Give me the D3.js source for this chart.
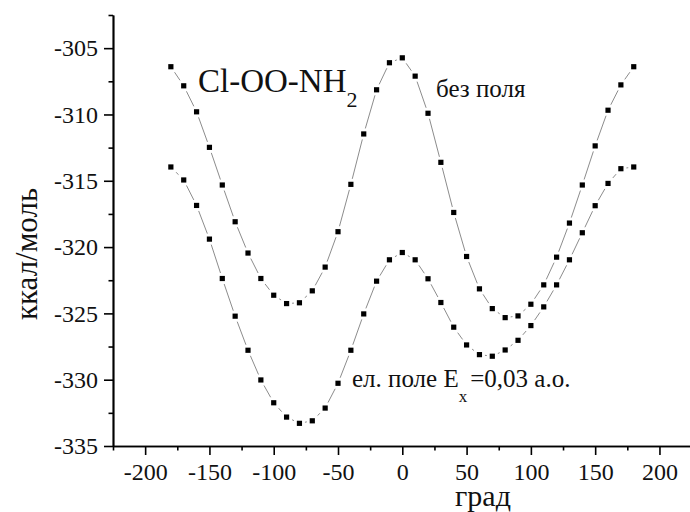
<!DOCTYPE html>
<html>
<head>
<meta charset="utf-8">
<script src="https://cdn.jsdelivr.net/npm/d3@7"></script>
<style>
  html, body { margin: 0; padding: 0; background: #fff; }
  svg { display: block; }
</style>
</head>
<body>
<svg id="chart" width="690" height="512"></svg>
<script>
// Torsion angle, degrees
const angles = [-180, -170, -160, -150, -140, -130, -120, -110, -100, -90, -80, -70, -60, -50, -40, -30, -20, -10,
  0, 10, 20, 30, 40, 50, 60, 70, 80, 90, 100, 110, 120, 130, 140, 150, 160, 170, 180];

// Energy without field, kcal/mol
const energyNoField = [-306.40, -307.84, -309.80, -312.48, -315.32, -318.09, -320.45, -322.37, -323.63, -324.26,
  -324.20, -323.30, -321.51, -318.84, -315.27, -311.47, -308.14, -306.10, -305.73, -307.11, -309.91, -313.61,
  -317.39, -320.71, -323.15, -324.64, -325.32, -325.19, -324.31, -322.85, -320.76, -318.19, -315.32, -312.37,
  -309.68, -307.77, -306.40];

// Energy in field Ex = 0.03 a.u., kcal/mol
const energyField = [-313.96, -314.94, -316.86, -319.40, -322.37, -325.21, -327.78, -330.02, -331.74, -332.82,
  -333.29, -333.10, -332.14, -330.27, -327.78, -325.04, -322.57, -320.96, -320.41, -320.96, -322.39, -324.18,
  -326.04, -327.38, -328.11, -328.23, -327.76, -327.03, -325.92, -324.51, -322.85, -320.96, -318.92, -316.88,
  -315.20, -314.09, -313.96];

const xMajorTicks = [-200, -150, -100, -50, 0, 50, 100, 150, 200];
const xMinorTicks = [-225, -175, -125, -75, -25, 25, 75, 125, 175, 225];
const yMajorTicks = [-335, -330, -325, -320, -315, -310, -305];
const yMinorTicks = [-332.5, -327.5, -322.5, -317.5, -312.5, -307.5, -302.5];

const FONT = '"Liberation Serif"';
const INK = "#111";

const svg = d3.select("#chart");

const x = d3.scaleLinear().domain([-225, 225]).range([113, 691.6]);
const y = d3.scaleLinear().domain([-335, -302.5]).range([446, 15]);

const fmt = d => String(d);

// Curves: thin grey connecting line, then square markers with a white gap round them
const line = d3.line().x(d => x(d[0])).y(d => y(d[1]));
const seriesList = [energyNoField, energyField];

seriesList.forEach(vals => {
  const pts = angles.map((a, i) => [a, vals[i]]);
  svg.append("path")
    .attr("d", line(pts))
    .attr("fill", "none")
    .attr("stroke", "#8c8c8c")
    .attr("stroke-width", 1);
});

seriesList.forEach(vals => {
  const pts = angles.map((a, i) => [a, vals[i]]);
  svg.append("g").selectAll("rect").data(pts).join("rect")
    .attr("x", d => x(d[0]) - 5.5)
    .attr("y", d => y(d[1]) - 5.5)
    .attr("width", 11).attr("height", 11)
    .attr("fill", "#fff");
});

seriesList.forEach(vals => {
  const pts = angles.map((a, i) => [a, vals[i]]);
  svg.append("g").selectAll("rect").data(pts).join("rect")
    .attr("x", d => x(d[0]) - 2.6)
    .attr("y", d => y(d[1]) - 2.6)
    .attr("width", 5.2).attr("height", 5.2)
    .attr("fill", "#000");
});

// Axes
function styleAxis(g) {
  g.selectAll(".domain").attr("stroke", "#000").attr("stroke-width", 1.7);
  g.selectAll(".tick line").attr("stroke", "#000").attr("stroke-width", 1.6);
  g.selectAll(".tick text")
    .style("font-family", FONT)
    .style("font-size", "24px")
    .style("fill", INK);
}

svg.append("g")
  .attr("transform", "translate(0,446)")
  .call(d3.axisBottom(x).tickValues(xMinorTicks).tickSize(4.5).tickSizeOuter(0).tickFormat(""))
  .call(styleAxis);
svg.append("g")
  .attr("transform", "translate(0,446)")
  .call(d3.axisBottom(x).tickValues(xMajorTicks).tickSize(9).tickSizeOuter(0).tickPadding(8).tickFormat(fmt))
  .call(styleAxis);

svg.append("g")
  .attr("transform", "translate(113,0)")
  .call(d3.axisLeft(y).tickValues(yMinorTicks).tickSize(4.5).tickSizeOuter(0).tickFormat(""))
  .call(styleAxis);
svg.append("g")
  .attr("transform", "translate(113,0)")
  .call(d3.axisLeft(y).tickValues(yMajorTicks).tickSize(9).tickSizeOuter(0).tickPadding(6).tickFormat(fmt))
  .call(styleAxis);

function label(sel, size) {
  return sel.style("font-family", FONT).style("font-size", size + "px").style("fill", INK);
}

// Axis titles
label(svg.append("text"), 30)
  .attr("x", 483).attr("y", 506)
  .attr("text-anchor", "middle")
  .text("град");

label(svg.append("text"), 31)
  .attr("transform", "translate(37,254) rotate(-90)")
  .attr("text-anchor", "middle")
  .text("ккал/моль");

// Annotations
const title = label(svg.append("text"), 33).attr("x", 198).attr("y", 92);
title.append("tspan").text("Cl-OO-NH");
title.append("tspan").attr("dy", 15).style("font-size", "22px").text("2");

label(svg.append("text"), 25)
  .attr("x", 436).attr("y", 97)
  .text("без поля");

const fieldLabel = label(svg.append("text"), 25).attr("x", 352).attr("y", 387);
fieldLabel.append("tspan").text("ел. поле E");
fieldLabel.append("tspan").attr("dy", 15).style("font-size", "17px").text("x");
fieldLabel.append("tspan").attr("dy", -15).attr("dx", 3).text("=0,03 а.о.");
</script>
</body>
</html>
